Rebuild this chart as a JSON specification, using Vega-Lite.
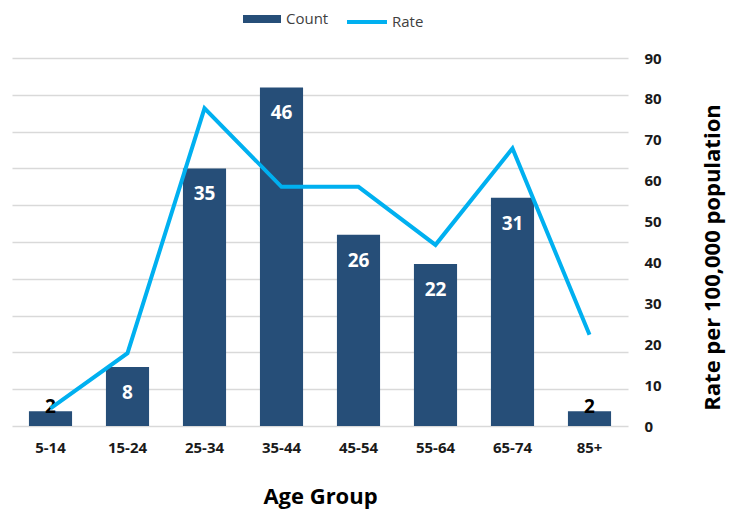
{
  "$schema": "https://vega.github.io/schema/vega-lite/v6.json",
  "width": 616,
  "height": 368,
  "autosize": "none",
  "padding": {"left": 12, "top": 58, "right": 112, "bottom": 85},
  "background": "white",
  "config": {
    "view": {"stroke": null},
    "font": "Open Sans"
  },
  "data": {
    "values": [
      {"age": "5-14", "count": 2, "rate": 4.3},
      {"age": "15-24", "count": 8, "rate": 17.8},
      {"age": "25-34", "count": 35, "rate": 77.7},
      {"age": "35-44", "count": 46, "rate": 58.5},
      {"age": "45-54", "count": 26, "rate": 58.5},
      {"age": "55-64", "count": 22, "rate": 44.3},
      {"age": "65-74", "count": 31, "rate": 67.9},
      {"age": "85+", "count": 2, "rate": 22.3}
    ]
  },
  "encoding": {
    "x": {
      "field": "age",
      "type": "nominal",
      "sort": null,
      "scale": {"paddingInner": 0.44, "paddingOuter": 0.22},
      "axis": {
        "title": "Age Group",
        "titleFont": "Open Sans",
        "titleFontSize": 22,
        "titleFontWeight": "bold",
        "titleColor": "#000000",
        "titlePadding": 31,
        "labelAngle": 0,
        "labelFont": "Open Sans",
        "labelFontSize": 15,
        "labelFontWeight": "bold",
        "labelColor": "#1a1a1a",
        "labelPadding": 14,
        "ticks": false,
        "domain": false,
        "grid": false
      }
    }
  },
  "layer": [
    {
      "encoding": {
        "y": {
          "field": "count",
          "type": "quantitative",
          "scale": {"domain": [0, 50], "nice": false},
          "axis": {
            "orient": "left",
            "title": null,
            "labels": false,
            "ticks": false,
            "domain": false,
            "grid": true,
            "values": [0, 5, 10, 15, 20, 25, 30, 35, 40, 45, 50],
            "gridColor": "#d9d9d9",
            "gridWidth": 1.5
          }
        }
      },
      "layer": [
        {
          "mark": {"type": "bar", "color": "#264e78"},
          "encoding": {
            "fill": {
              "datum": "Count",
              "type": "nominal",
              "scale": {"range": ["#264e78"]},
              "legend": {
                "title": null,
                "orient": "none",
                "legendX": 231,
                "legendY": -58,
                "symbolType": "M-1,-0.21H1V0.21H-1Z",
                "symbolSize": 1444,
                "symbolStrokeWidth": 0,
                "labelFont": "Open Sans",
                "labelFontSize": 15,
                "labelColor": "#404040",
                "labelOffset": 5
              }
            }
          }
        },
        {
          "transform": [{"filter": "datum.count >= 5"}],
          "mark": {
            "type": "text",
            "baseline": "top",
            "dy": 17,
            "font": "Open Sans",
            "fontSize": 19,
            "fontWeight": "bold",
            "color": "#ffffff"
          },
          "encoding": {"y": {"field": "count", "type": "quantitative"}, "text": {"field": "count"}}
        },
        {
          "transform": [{"filter": "datum.count < 5"}],
          "mark": {
            "type": "text",
            "baseline": "middle",
            "dy": -4,
            "font": "Open Sans",
            "fontSize": 19,
            "fontWeight": "bold",
            "color": "#000000"
          },
          "encoding": {"y": {"field": "count", "type": "quantitative"}, "text": {"field": "count"}}
        }
      ]
    },
    {
      "mark": {"type": "line", "strokeWidth": 4, "strokeJoin": "miter"},
      "encoding": {
        "y": {
          "field": "rate",
          "type": "quantitative",
          "scale": {"domain": [0, 90], "nice": false},
          "axis": {
            "orient": "right",
            "title": "Rate per 100,000 population",
            "titleFont": "Open Sans",
            "titleFontSize": 22,
            "titleFontWeight": "bold",
            "titleColor": "#000000",
            "titleAngle": 270,
            "titleBaseline": "middle",
            "titleAlign": "center",
            "titleX": 84,
            "titleY": 199,
            "values": [0, 10, 20, 30, 40, 50, 60, 70, 80, 90],
            "labelFont": "Open Sans",
            "labelFontSize": 15,
            "labelFontWeight": "bold",
            "labelColor": "#1a1a1a",
            "labelPadding": 16,
            "ticks": false,
            "domain": false,
            "grid": false
          }
        },
        "stroke": {
          "datum": "Rate",
          "type": "nominal",
          "scale": {"range": ["#00b0f0"]},
          "legend": {
            "title": null,
            "orient": "none",
            "legendX": 333,
            "legendY": -58,
            "symbolType": "stroke",
            "symbolSize": 1600,
            "symbolStrokeWidth": 4,
            "labelFont": "Open Sans",
            "labelFontSize": 15,
            "labelColor": "#404040",
            "labelOffset": 3
          }
        }
      }
    }
  ],
  "resolve": {"scale": {"y": "independent"}}
}
